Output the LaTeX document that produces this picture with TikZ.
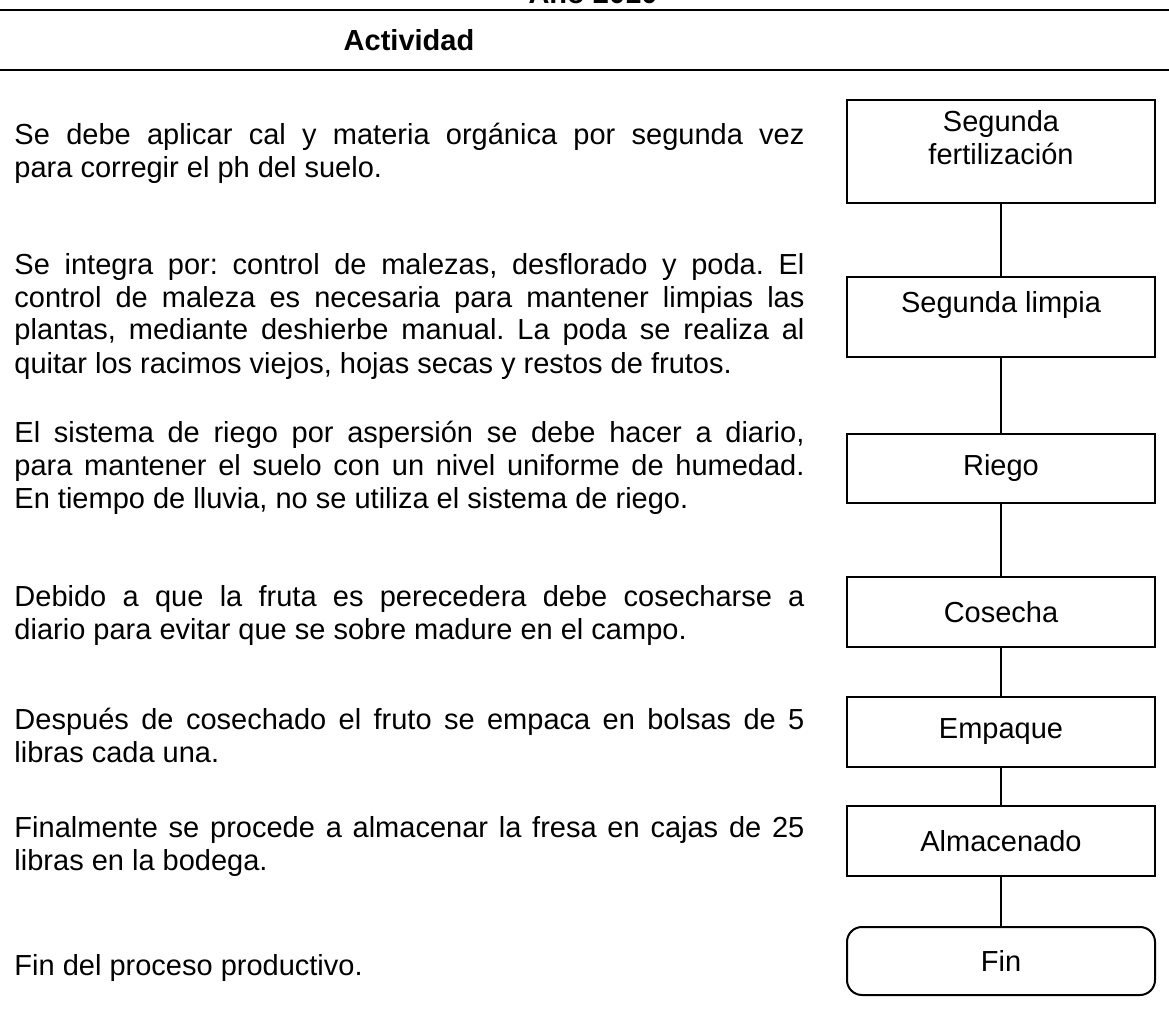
\documentclass[tikz,border=0pt]{standalone}
\usepackage{fontspec}
\setmainfont{Liberation Sans}

\begin{document}
\begin{tikzpicture}[x=0.4pt,y=-0.4pt,
    font=\fontsize{11.6}{13.2}\selectfont\frenchspacing,
    paso/.style={draw,line width=0.8pt,minimum width=123.2pt,align=center,inner sep=2pt},
    texto/.style={anchor=base west,text width=316pt,align=justify,inner sep=0pt}]
    \clip (0,0) rectangle (1169,1013);
    % encabezado
    \draw[line width=0.8pt] (0,10) -- (1169,10);
    \draw[line width=0.8pt] (0,70) -- (1169,70);
    \node[anchor=base,font=\fontsize{11.6}{13.2}\selectfont\bfseries] (anio) at (593,3) {Año 2010};
    \node[font=\fontsize{11.6}{13.2}\selectfont\bfseries] (act) at (409,40) {Actividad};
    % descripciones
    \node[texto] (p1) at (14,144) {Se debe aplicar cal y materia orgánica por segunda vez\linebreak para corregir el ph del suelo.};
    \node[texto] (p2) at (14,274) {Se integra por: control de malezas, desflorado y poda. El\linebreak control de maleza es necesaria para mantener limpias las\linebreak plantas, mediante deshierbe manual. La poda se realiza al\linebreak quitar los racimos viejos, hojas secas y restos de frutos.};
    \node[texto] (p3) at (14,442) {El sistema de riego por aspersión se debe hacer a diario,\linebreak para mantener el suelo con un nivel uniforme de humedad.\linebreak En tiempo de lluvia, no se utiliza el sistema de riego.};
    \node[texto] (p4) at (14,606) {Debido a que la fruta es perecedera debe cosecharse a\linebreak diario para evitar que se sobre madure en el campo.};
    \node[texto] (p5) at (14,729) {Después de cosechado el fruto se empaca en bolsas de 5\linebreak libras cada una.};
    \node[texto] (p6) at (14,837) {Finalmente se procede a almacenar la fresa en cajas de 25\linebreak libras en la bodega.};
    \node[texto] (p7) at (14,975) {Fin del proceso productivo.};
    % diagrama
    \node[paso,minimum height=41.2pt,text depth=11pt] (fert) at (1001,151.5) {Segunda\\fertilización};
    \node[paso,minimum height=32pt,text depth=12pt] (limpia) at (1001,317) {Segunda limpia};
    \node[paso,minimum height=27.6pt] (riego) at (1001,468.5) {Riego};
    \node[paso,minimum height=28pt] (cosecha) at (1001,612) {Cosecha};
    \node[paso,minimum height=28pt] (empaque) at (1001,732) {Empaque};
    \node[paso,minimum height=28pt] (almacen) at (1001,841) {Almacenado};
    \node[paso,rounded corners=6pt,minimum height=27.2pt] (fin) at (1001,961) {Fin};
    \draw[line width=0.8pt] (fert) -- (limpia) -- (riego) -- (cosecha) -- (empaque) -- (almacen) -- (fin);
\end{tikzpicture}
\end{document}
